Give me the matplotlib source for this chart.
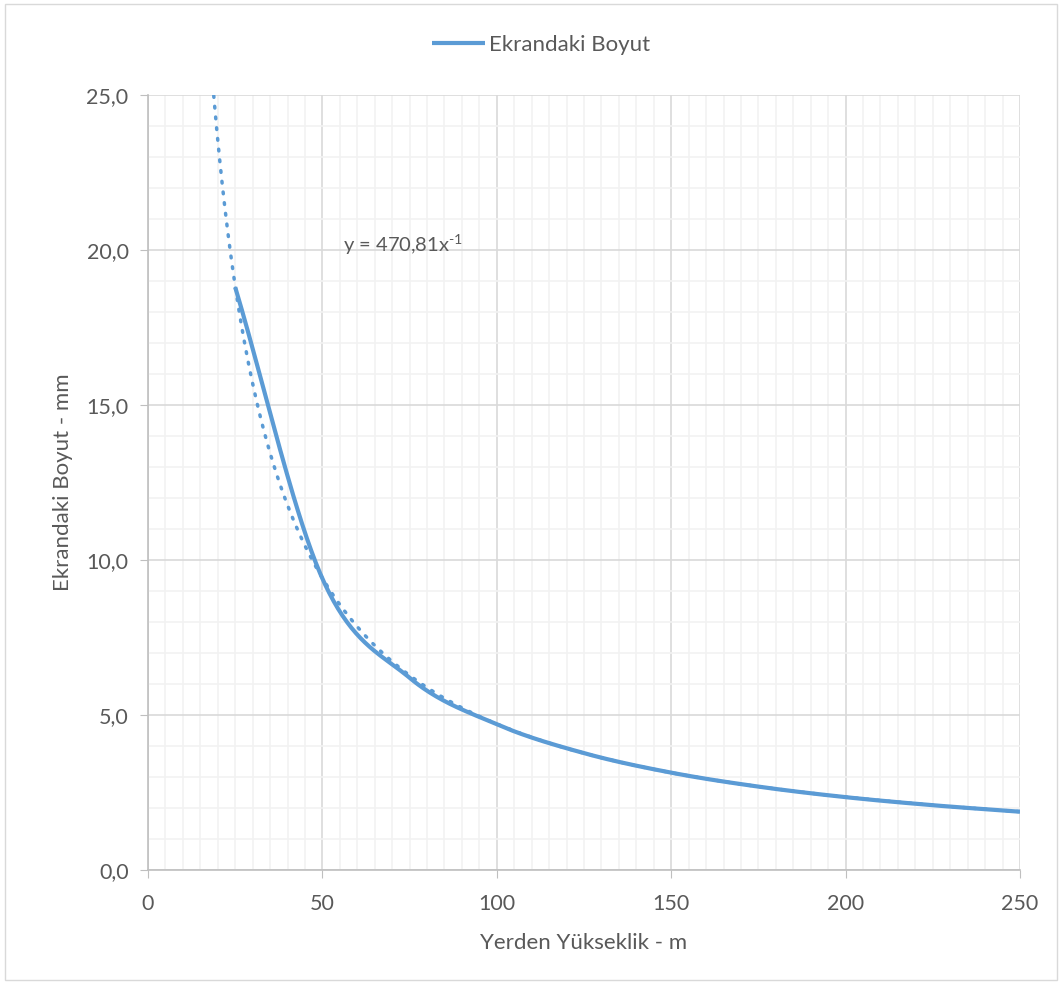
import numpy as np
import matplotlib
matplotlib.use("Agg")
import matplotlib.pyplot as plt
from matplotlib.ticker import MultipleLocator, FuncFormatter
from matplotlib.patches import Rectangle

# Data
heights = [25, 50, 75, 100, 125, 150, 175, 200, 225, 250]
sizes = [18.8, 9.4, 6.2, 4.7, 3.77, 3.14, 2.69, 2.35, 2.09, 1.88]
trend_coef = 470.81
trend_exp = -1
series_name = "Ekrandaki Boyut"
x_label = "Yerden Yükseklik - m"
y_label = "Ekrandaki Boyut - mm"
equation = "y = 470,81x$^{\\text{-1}}$"

plt.rcParams['font.family'] = ['Lato', 'DejaVu Sans']
plt.rcParams['mathtext.fontset'] = 'custom'
plt.rcParams['mathtext.rm'] = 'Lato'
plt.rcParams['mathtext.it'] = 'Lato'
BLUE = "#5B9BD5"
TXT = "#595959"


def catmull_rom(xs, ys, n=40):
    xs = np.asarray(xs, float); ys = np.asarray(ys, float)
    px = np.concatenate([[2*xs[0]-xs[1]], xs, [2*xs[-1]-xs[-2]]])
    py = np.concatenate([[2*ys[0]-ys[1]], ys, [2*ys[-1]-ys[-2]]])
    ox, oy = [], []
    t = np.linspace(0, 1, n)
    for i in range(1, len(px)-2):
        for arr, out in ((px, ox), (py, oy)):
            p0, p1, p2, p3 = arr[i-1], arr[i], arr[i+1], arr[i+2]
            out.extend(0.5*((2*p1) + (-p0+p2)*t + (2*p0-5*p1+4*p2-p3)*t**2 + (-p0+3*p1-3*p2+p3)*t**3))
    return np.array(ox), np.array(oy)


fig = plt.figure(figsize=(10.61, 9.84), dpi=100)
ax = fig.add_axes([148/1061, 1-870/984, (1020-148)/1061, (870-95)/984])

fig.patches.append(Rectangle((5/1061, 4/984), 1052/1061, 976/984, transform=fig.transFigure,
                             fill=False, edgecolor="#d9d9d9", linewidth=1))

ax.set_xlim(0, 250)
ax.set_ylim(0, 25)
ax.xaxis.set_major_locator(MultipleLocator(50))
ax.xaxis.set_minor_locator(MultipleLocator(5))
ax.yaxis.set_major_locator(MultipleLocator(5))
ax.yaxis.set_minor_locator(MultipleLocator(1))
ax.grid(which='major', color="#d9d9d9", linewidth=1.2)
ax.grid(which='minor', color="#f2f2f2", linewidth=1.2)
ax.set_axisbelow(True)

for s in ['top', 'right']:
    ax.spines[s].set_visible(False)
for s in ['left', 'bottom']:
    ax.spines[s].set_color("#bfbfbf")
    ax.spines[s].set_linewidth(1.2)

ax.tick_params(which='major', length=6, color="#bfbfbf", labelcolor=TXT, labelsize=15.5, pad=8)
ax.tick_params(axis='x', which='major', pad=11)
ax.tick_params(which='minor', length=0)
ax.yaxis.set_major_formatter(FuncFormatter(lambda v, p: f"{v:.1f}".replace('.', ',')))
ax.xaxis.set_major_formatter(FuncFormatter(lambda v, p: f"{int(v)}"))

sx, sy = catmull_rom(heights, sizes)
ax.plot(sx, sy, color=BLUE, linewidth=3.0, solid_capstyle='butt', label=series_name)

tx = np.linspace(15, 250, 600)
ax.plot(tx, trend_coef * tx**trend_exp, color=BLUE, linewidth=2.5,
        linestyle=(0, (0.5, 2.6)), dash_capstyle='round')

ax.text(56, 20.15, equation, fontsize=14.5, color=TXT, va='center', ha='left')

ax.set_xlabel(x_label, fontsize=16, color=TXT, labelpad=14)
ax.set_ylabel(y_label, fontsize=16, color=TXT, labelpad=10)

leg = fig.legend(handles=[ax.lines[0]], loc='center', bbox_to_anchor=(541/1061, 1-45/984),
                 frameon=False, fontsize=16, handlelength=2.4, handletextpad=0.15)
for t in leg.get_texts():
    t.set_color(TXT)

fig.savefig("out.png", dpi=100)
